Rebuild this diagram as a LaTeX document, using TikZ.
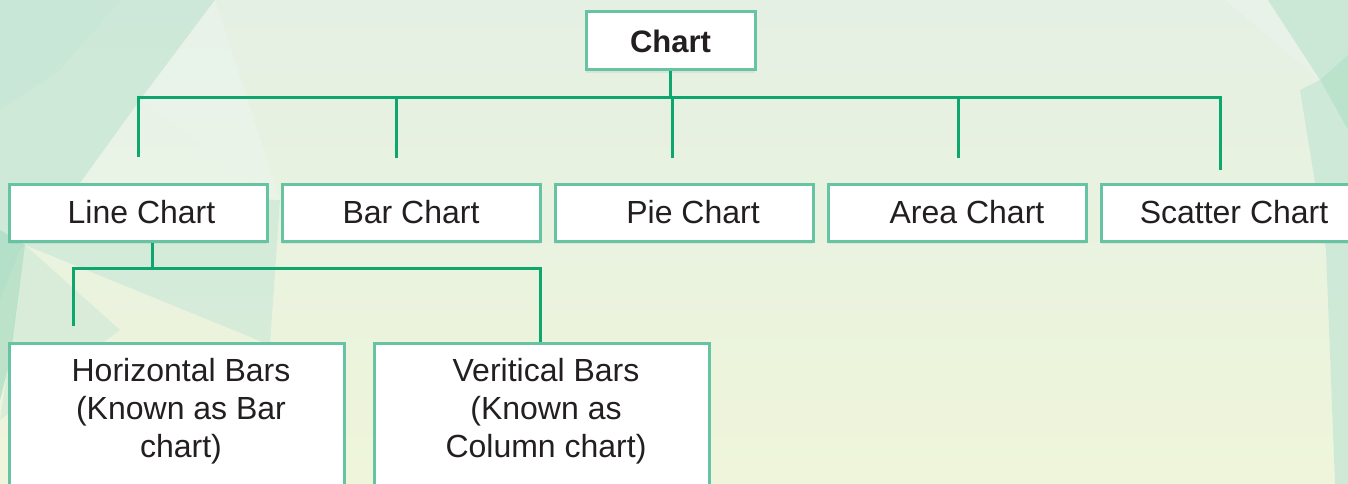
\documentclass[tikz,border=0pt]{standalone}
\usepackage{fontspec}
\setmainfont{Liberation Sans}
\usetikzlibrary{shadows}
\definecolor{boxline}{HTML}{66C4A2}
\definecolor{conn}{HTML}{0DA66E}
\definecolor{txt}{HTML}{231F20}
\definecolor{bgtop}{HTML}{E5F0E4}
\definecolor{bgbot}{HTML}{EEF5DA}
\definecolor{teal1}{HTML}{C8E7D6}
\definecolor{teal2}{HTML}{A9DCC2}
\definecolor{pale}{HTML}{EAF4EC}
\tikzset{
  chartbox/.style={draw=boxline, line width=3pt, fill=white, text=txt,
    font=\fontsize{32}{38}\selectfont, align=center, inner sep=0pt,
    drop shadow={opacity=0.12, shadow xshift=0pt, shadow yshift=-3pt}},
  rowbox/.style={chartbox, minimum width=258pt, minimum height=57pt},
  link/.style={draw=conn, line width=3pt}
}
\begin{document}
\begin{tikzpicture}[x=1pt,y=-1pt]
\useasboundingbox (0,0) rectangle (1348,484);
\begin{scope}
\clip (0,0) rectangle (1348,484);
% background
\shade[top color=bgtop, bottom color=bgbot] (0,0) rectangle (1348,484);
\fill[teal1, opacity=0.8] (0,0) -- (215,0) -- (140,100) -- (75,190) -- (20,250) -- (0,300) -- cycle;
\fill[pale, opacity=0.7] (215,0) -- (280,200) -- (140,100) -- cycle;
\fill[teal1, opacity=0.6] (75,190) -- (280,200) -- (270,345) -- (25,245) -- cycle;
\fill[teal1, opacity=0.5] (25,245) -- (120,330) -- (0,420) -- cycle;
\fill[teal2, opacity=0.7] (0,230) -- (25,245) -- (10,360) -- (0,400) -- cycle;
\fill[teal1, opacity=0.7] (0,0) -- (120,0) -- (60,70) -- (0,110) -- cycle;
\fill[pale, opacity=0.5] (75,190) -- (140,100) -- (280,200) -- cycle;
\fill[pale, opacity=0.6] (1225,0) -- (1320,80) -- (1348,70) -- (1348,0) -- cycle;
\fill[teal1, opacity=0.9] (1268,0) -- (1348,0) -- (1348,55) -- (1320,80) -- cycle;
\fill[teal2, opacity=0.7] (1320,80) -- (1348,55) -- (1348,130) -- cycle;
\fill[teal1, opacity=0.8] (1300,90) -- (1320,80) -- (1348,130) -- (1348,484) -- (1335,484) -- (1326,250) -- cycle;
\end{scope}
% nodes
\node[chartbox, minimum width=169pt, minimum height=58pt, font=\fontsize{31}{38}\selectfont\bfseries] (chart) at (670.5,41) {Chart};
\node[rowbox] (line) at (138,212.5) {\hspace*{7pt}Line Chart};
\node[rowbox] (bar) at (411,212.5) {Bar Chart};
\node[rowbox] (pie) at (684,212.5) {\hspace*{18pt}Pie Chart};
\node[rowbox] (area) at (957,212.5) {\hspace*{20pt}Area Chart};
\node[rowbox] (scatter) at (1230,212.5) {\hspace*{8pt}Scatter Chart};
\node[chartbox, anchor=north, minimum width=335pt, minimum height=200pt] (hbars) at (176.5,342)
  {\rule{0pt}{38pt}\hspace*{9pt}Horizontal Bars\\\hspace*{9pt}(Known as Bar\\\hspace*{9pt}chart)\\[80pt]};
\node[chartbox, anchor=north, minimum width=335pt, minimum height=200pt] (vbars) at (541.5,342)
  {\rule{0pt}{38pt}\hspace*{9pt}Veritical Bars\\\hspace*{9pt}(Known as\\\hspace*{9pt}Column chart)\\[80pt]};
% connectors
\coordinate (hub) at (chart.south |- 0,98);
\coordinate (e1) at (138,157);
\coordinate (e2) at (396,158);
\coordinate (e3) at (672,158);
\coordinate (e4) at (958,158);
\coordinate (e5) at (1220,170);
\draw[link] (chart.south) -- (hub);
\draw[link] (e1) -- (e1 |- hub) -- (e5 |- hub) -- (e5);
\draw[link] (e2 |- hub) -- (e2);
\draw[link] (e3 |- hub) -- (e3);
\draw[link] (e4 |- hub) -- (e4);
\coordinate (lhub) at (152,268);
\coordinate (f1) at (73,326);
\draw[link] (line.south -| lhub) -- (lhub);
\draw[link] (f1) -- (f1 |- lhub) -- (540,268) -- (vbars.north -| 540,0);
\end{tikzpicture}
\end{document}
